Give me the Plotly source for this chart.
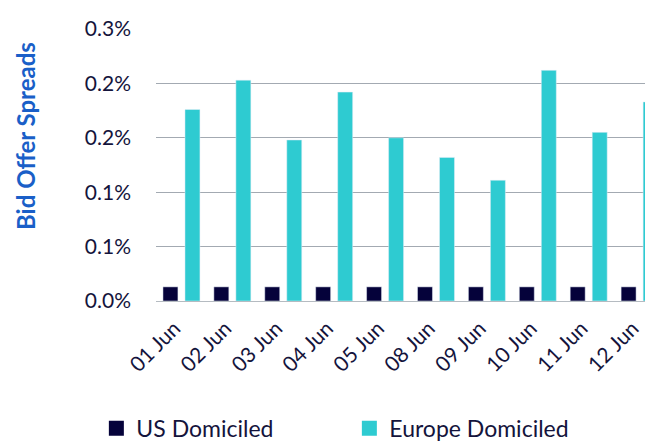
import plotly.graph_objects as go

dates = ["01 Jun", "02 Jun", "03 Jun", "04 Jun", "05 Jun", "08 Jun", "09 Jun", "10 Jun", "11 Jun", "12 Jun"]
us_domiciled = [0.00013, 0.00013, 0.00013, 0.00013, 0.00013, 0.00013, 0.00013, 0.00013, 0.00013, 0.00013]
europe_domiciled = [0.00176, 0.00203, 0.00148, 0.00192, 0.00150, 0.00132, 0.00111, 0.00212, 0.00155, 0.00183]
y_ticks = [0, 0.0005, 0.001, 0.0015, 0.002, 0.0025]
y_tick_labels = ["0.0%", "0.1%", "0.1%", "0.2%", "0.2%", "0.3%"]

# page body has an 8px margin, so the figure is offset by (8, 8)
W, H = 645, 434
L, R, T, B = 148, 0, 21, 141
PW, PH = W - L - R, H - T - B
FONT = "Lato, Noto Sans, sans-serif"
TXT = "#14143C"
US_COLOR = "#05023A"
EU_COLOR = "#2ECBD1"

fig = go.Figure()
fig.add_bar(x=dates, y=us_domiciled, name="US Domiciled", marker_color=US_COLOR, showlegend=False)
fig.add_bar(x=dates, y=europe_domiciled, name="Europe Domiciled", marker_color=EU_COLOR, showlegend=False)
# legend entries with larger square symbols
fig.add_scatter(x=[None], y=[None], mode="markers", name="US Domiciled",
                marker=dict(symbol="square", size=15, color=US_COLOR))
fig.add_scatter(x=[None], y=[None], mode="markers", name="Europe Domiciled",
                marker=dict(symbol="square", size=15, color=EU_COLOR))

fig.update_layout(
    width=W, height=H,
    margin=dict(l=L, r=R, t=T, b=B, pad=0, autoexpand=False),
    paper_bgcolor="white", plot_bgcolor="white",
    barmode="group", bargap=0.135, bargroupgap=0.32,
    font=dict(family=FONT, size=21, color=TXT),
    showlegend=True,
    legend=dict(orientation="h", x=-0.12, y=-0.468, xanchor="left", yanchor="middle",
                entrywidth=208, entrywidthmode="pixels", font=dict(size=23, color=TXT),
                itemsizing="trace", traceorder="normal", bgcolor="rgba(0,0,0,0)"),
    annotations=[dict(text="<b>Bid Offer Spreads</b>", xref="paper", yref="paper",
                      x=(18 - L) / PW, y=1 - (128 - T) / PH,
                      xanchor="center", yanchor="middle", textangle=-90, showarrow=False,
                      font=dict(size=24, color="#1A5FC8", family=FONT))],
)
fig.update_xaxes(type="category", range=[-0.5, 9.263], tickangle=-45, showgrid=False,
                 showline=False, ticks="", automargin=False, ticklabelstandoff=10,
                 ticklabelshift=-7, tickfont=dict(size=21, color=TXT))
fig.update_yaxes(range=[0, 0.0025], tickvals=y_ticks, ticktext=y_tick_labels,
                 showgrid=True, gridcolor="#A3AAB2", gridwidth=1.3, zeroline=True,
                 zerolinecolor="#B5BBC1", zerolinewidth=1.3, showline=False, automargin=False,
                 ticklabelstandoff=24, tickfont=dict(size=21, color=TXT))

fig.write_html("out.html")
